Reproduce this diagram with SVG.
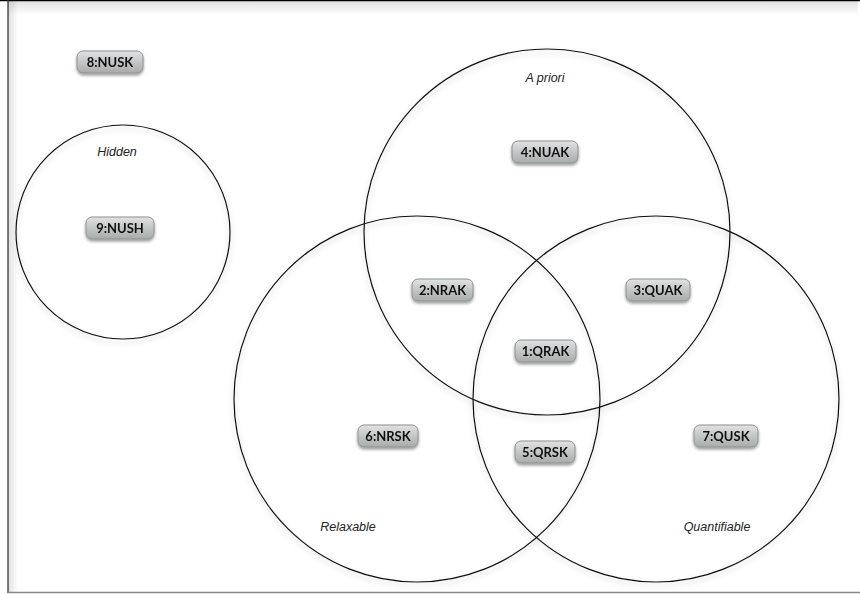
<svg xmlns="http://www.w3.org/2000/svg" width="860" height="594" viewBox="0 0 860 594">
<defs>
<linearGradient id="pill" x1="0" y1="0" x2="0" y2="1">
<stop offset="0" stop-color="#dfe3e3"/>
<stop offset="1" stop-color="#a9abab"/>
</linearGradient>
<linearGradient id="topsh" x1="0" y1="0" x2="0" y2="1">
<stop offset="0" stop-color="#000" stop-opacity="0.12"/>
<stop offset="1" stop-color="#000" stop-opacity="0"/>
</linearGradient>
<linearGradient id="leftsh" x1="0" y1="0" x2="1" y2="0">
<stop offset="0" stop-color="#000" stop-opacity="0.12"/>
<stop offset="1" stop-color="#000" stop-opacity="0"/>
</linearGradient>
<filter id="csh" x="-10%" y="-10%" width="120%" height="125%">
<feGaussianBlur in="SourceAlpha" stdDeviation="3"/>
<feOffset dx="0" dy="3" result="b"/>
<feComponentTransfer><feFuncA type="linear" slope="0.25"/></feComponentTransfer>
<feMerge><feMergeNode/><feMergeNode in="SourceGraphic"/></feMerge>
</filter>
<filter id="psh" x="-20%" y="-30%" width="140%" height="170%">
<feGaussianBlur in="SourceAlpha" stdDeviation="1.5"/>
<feOffset dx="0" dy="1.5" result="b"/>
<feComponentTransfer><feFuncA type="linear" slope="0.4"/></feComponentTransfer>
<feMerge><feMergeNode/><feMergeNode in="SourceGraphic"/></feMerge>
</filter>
</defs>
<style>
.set{fill:none;stroke:#111;stroke-width:1.2;filter:url(#csh)}
.p{fill:url(#pill);stroke:#8e9090;stroke-width:1}
.pt{font-family:Lato,"Noto Sans",sans-serif;font-weight:bold;font-size:13px;fill:#111;text-anchor:middle}
.lb{font-family:"Liberation Sans",Arial,sans-serif;font-style:italic;font-size:12.5px;fill:#222;text-anchor:middle}
</style>
<rect x="0" y="0" width="860" height="594" fill="#fff"/>
<rect x="8" y="1" width="850" height="14" fill="url(#topsh)"/>
<rect x="8" y="1" width="10" height="591" fill="url(#leftsh)"/>
<line x1="0" y1="0.6" x2="860" y2="0.6" stroke="#000" stroke-width="1.3"/>
<line x1="8" y1="0" x2="8" y2="593" stroke="#333" stroke-width="1.3"/>
<line x1="8" y1="592.5" x2="860" y2="592.5" stroke="#888" stroke-width="1.3"/>

<g id="sets">
<g id="set-hidden"><circle class="set" cx="123" cy="232" r="107"/><text class="lb" x="117" y="156">Hidden</text></g>
<g id="set-apriori"><circle class="set" cx="547" cy="232" r="183"/><text class="lb" x="545" y="82">A priori</text></g>
<g id="set-relaxable"><circle class="set" cx="417" cy="399" r="183"/><text class="lb" x="348" y="531">Relaxable</text></g>
<g id="set-quantifiable"><circle class="set" cx="656" cy="399" r="183"/><text class="lb" x="717" y="531">Quantifiable</text></g>
</g>

<g id="n8" filter="url(#psh)"><rect class="p" x="77" y="51" width="66" height="22" rx="6"/><text class="pt" x="110" y="66.5">8:NUSK</text></g>
<g id="n4" filter="url(#psh)"><rect class="p" x="512" y="141" width="66" height="22" rx="6"/><text class="pt" x="545" y="156.5">4:NUAK</text></g>
<g id="n9" filter="url(#psh)"><rect class="p" x="86" y="217" width="68" height="22" rx="6"/><text class="pt" x="120" y="232.5">9:NUSH</text></g>
<g id="n2" filter="url(#psh)"><rect class="p" x="412" y="279" width="61" height="22" rx="6"/><text class="pt" x="442.5" y="294.5">2:NRAK</text></g>
<g id="n3" filter="url(#psh)"><rect class="p" x="626" y="279" width="64" height="22" rx="6"/><text class="pt" x="658" y="294.5">3:QUAK</text></g>
<g id="n1" filter="url(#psh)"><rect class="p" x="515" y="340" width="61" height="22" rx="6"/><text class="pt" x="545.5" y="355.5">1:QRAK</text></g>
<g id="n6" filter="url(#psh)"><rect class="p" x="358" y="425" width="60" height="22" rx="6"/><text class="pt" x="388" y="440.5">6:NRSK</text></g>
<g id="n5" filter="url(#psh)"><rect class="p" x="515" y="441" width="60" height="22" rx="6"/><text class="pt" x="545" y="456.5">5:QRSK</text></g>
<g id="n7" filter="url(#psh)"><rect class="p" x="694" y="425" width="64" height="22" rx="6"/><text class="pt" x="726" y="440.5">7:QUSK</text></g>
<g id="connectors"/>
</svg>
